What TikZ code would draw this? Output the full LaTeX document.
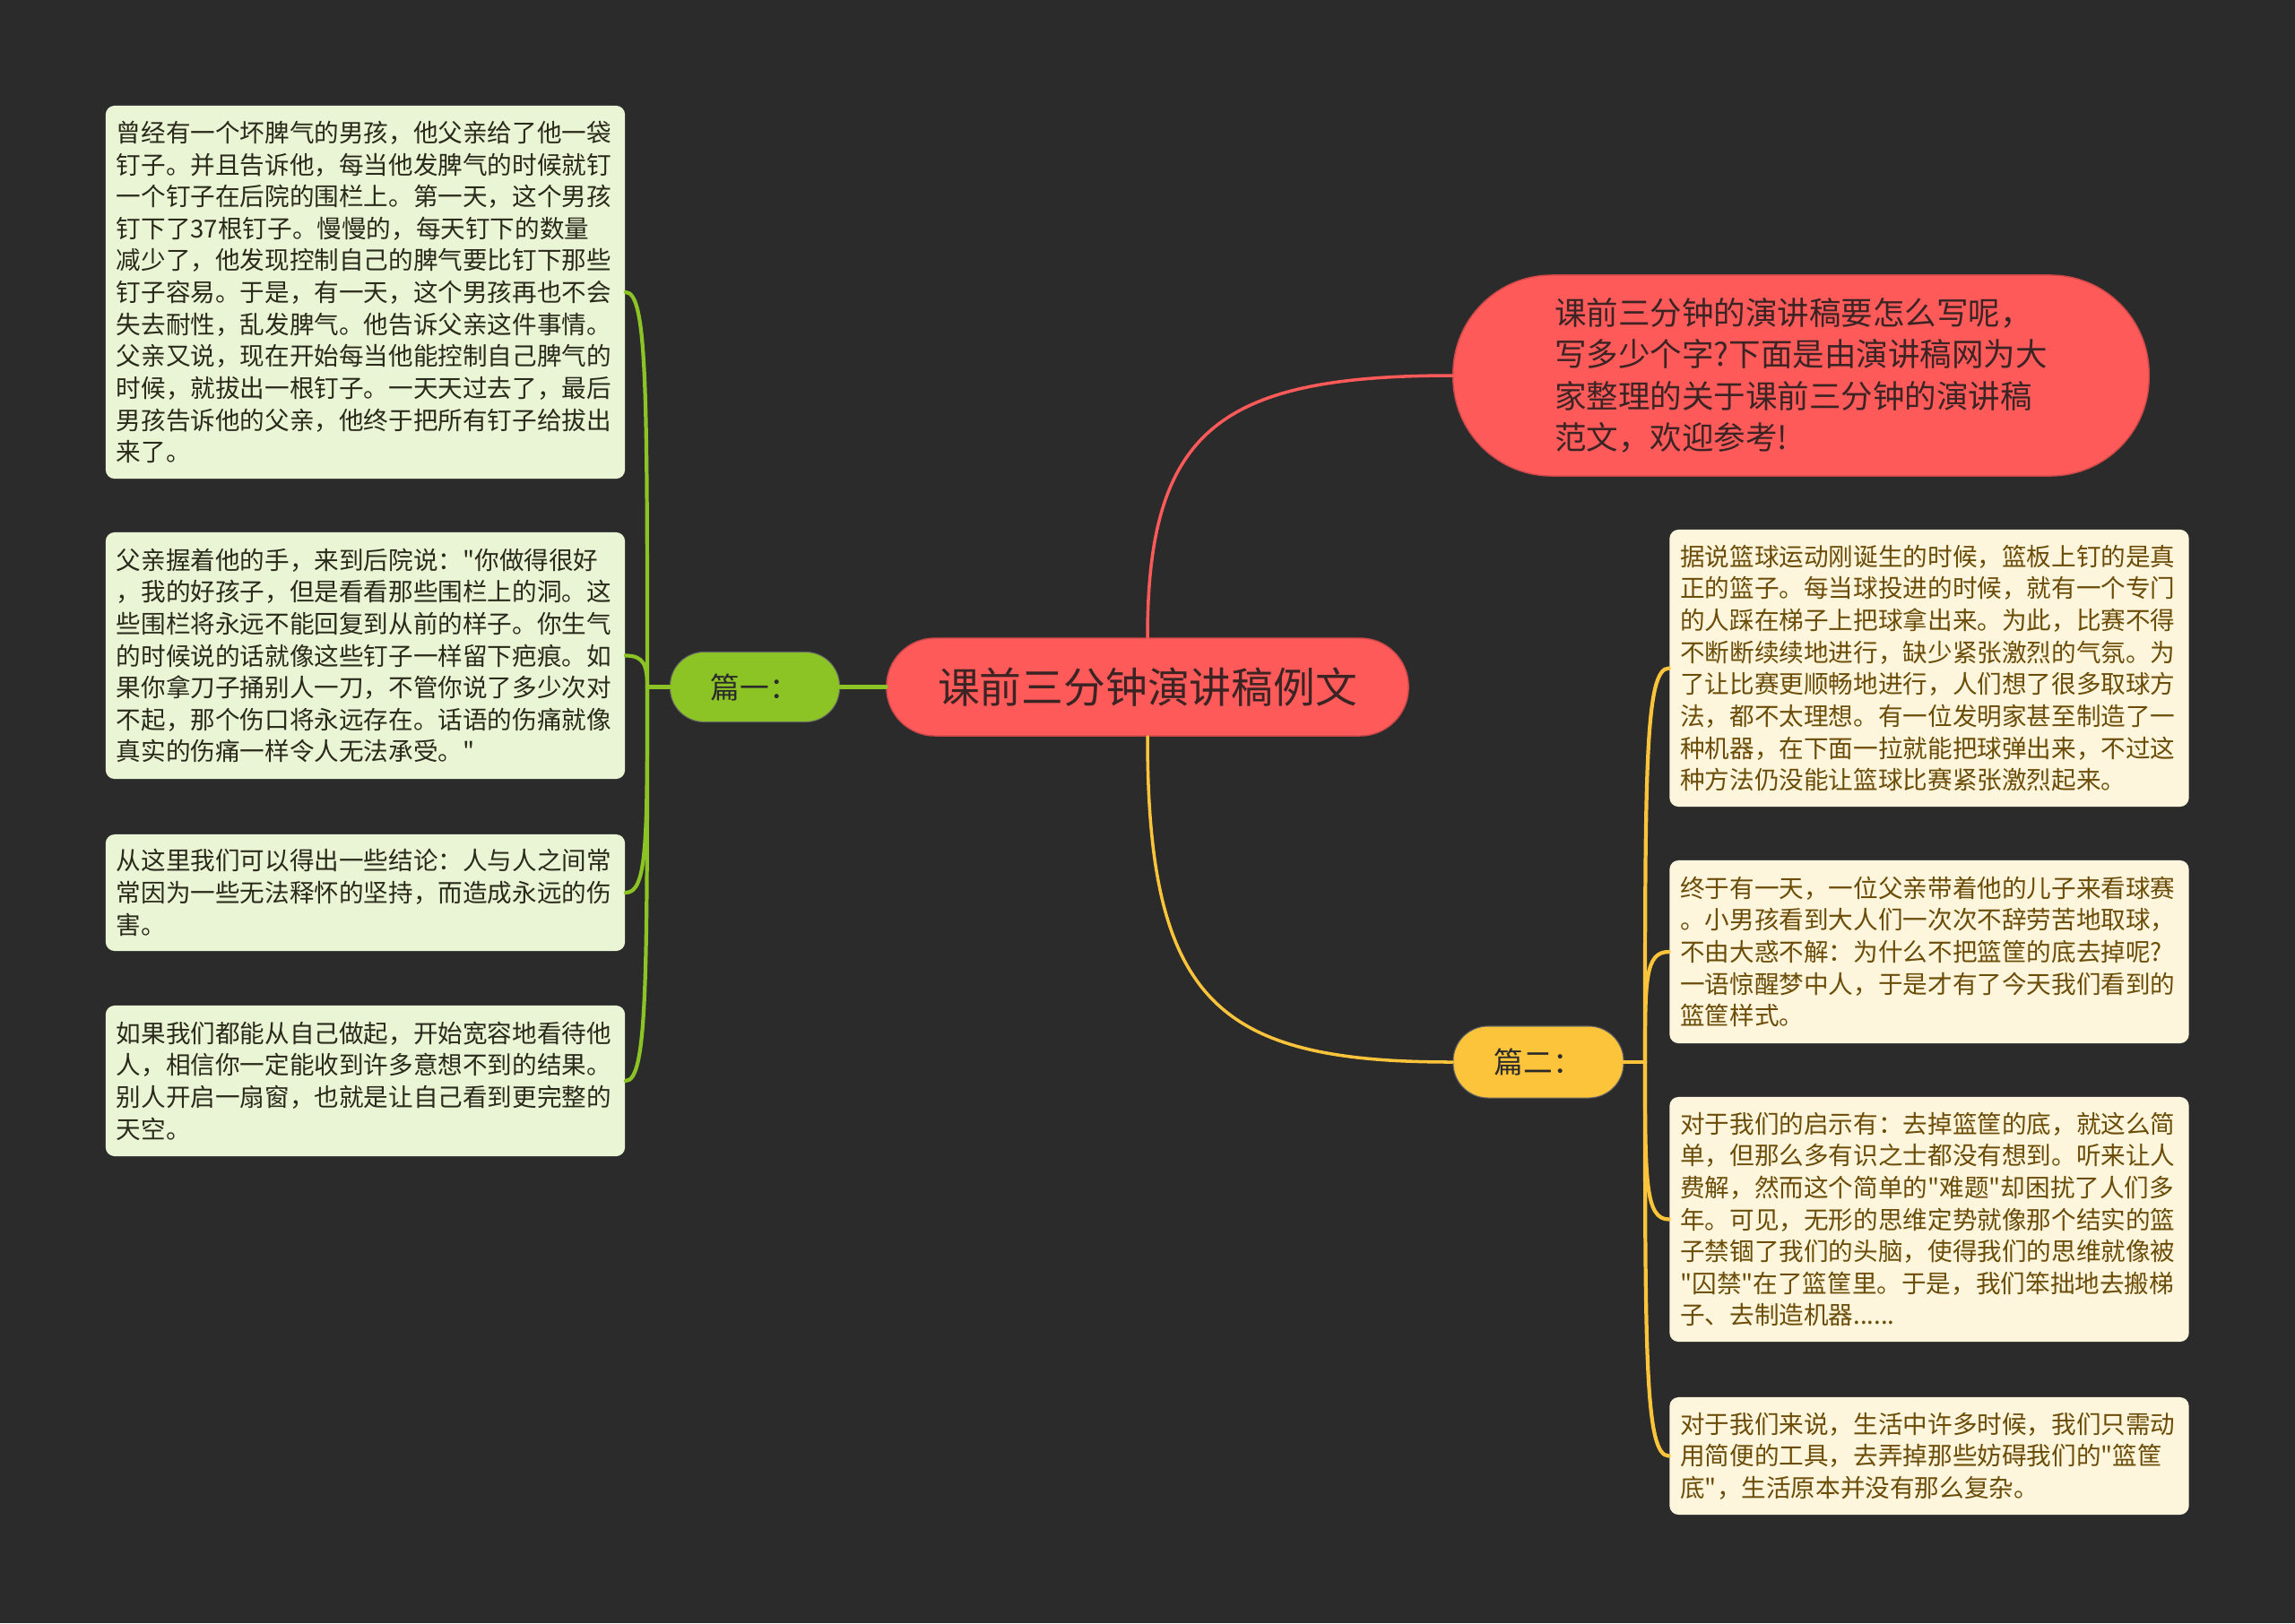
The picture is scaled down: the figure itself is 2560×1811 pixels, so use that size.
\documentclass[tikz,border=0pt]{standalone}
\usepackage{fontspec}
\newfontfamily\cjk{Noto Sans CJK SC}
\definecolor{bg}{HTML}{2B2B2B}
\definecolor{redfill}{HTML}{FF5A5A}
\definecolor{greenfill}{HTML}{8CC425}
\definecolor{yellowfill}{HTML}{FCC43A}
\definecolor{leftboxfill}{HTML}{EAF5D6}
\definecolor{rightboxfill}{HTML}{FEF6DC}
\definecolor{lefttext}{HTML}{2A2A1A}
\definecolor{righttext}{HTML}{6B4C08}
\definecolor{redtext}{HTML}{3D2424}
\definecolor{darktext}{HTML}{2B2B2B}
\begin{document}
\begin{tikzpicture}[x=0.01cm,y=-0.01cm,
  rootnode/.style={rectangle,rounded corners=0.54cm,fill=redfill,draw=redfill!80!black,line width=0.4pt,
    minimum width=5.82cm,minimum height=1.09cm,inner sep=0pt,text=redtext,
    font=\cjk\fontsize{13.3pt}{16pt}\selectfont},
  intronode/.style={rectangle,rounded corners=1.1cm,fill=redfill,draw=redfill!80!black,line width=0.4pt,
    minimum width=7.76cm,minimum height=2.24cm,inner sep=0pt,text=redtext,align=left,
    font=\cjk\fontsize{10.1pt}{13.2pt}\selectfont},
  branchnode/.style={rectangle,rounded corners=0.38cm,draw=black!60,line width=0.3pt,
    minimum width=1.89cm,minimum height=0.78cm,inner sep=0pt,text=darktext,
    font=\cjk\fontsize{9.3pt}{11pt}\selectfont},
  leafbox/.style={rectangle,rounded corners=0.1cm,text width=5.55cm,inner xsep=0.12cm,inner ysep=0pt,
    align=left,font=\cjk\fontsize{7.85pt}{10.13pt}\selectfont},
  leftleaf/.style={leafbox,fill=leftboxfill,text=lefttext},
  rightleaf/.style={leafbox,fill=rightboxfill,text=righttext},
  greenline/.style={draw=greenfill,line width=1.2pt,line cap=round},
  yellowline/.style={draw=yellowfill,line width=1.2pt,line cap=round},
  redline/.style={draw=redfill,line width=1pt,line cap=round}
]
\fill[bg] (0,0) rectangle (2560,1811);
\useasboundingbox (0,0) rectangle (2560,1811);

% main nodes
\node[rootnode] (root) at (1280,766.5) {课前三分钟演讲稿例文};
\node[intronode] (intro) at (2009,419) {课前三分钟的演讲稿要怎么写呢，\\写多少个字?下面是由演讲稿网为大\\家整理的关于课前三分钟的演讲稿\\范文，欢迎参考!};
\node[branchnode,fill=greenfill] (p1) at (842,766.5) {篇一：};
\node[branchnode,fill=yellowfill,minimum width=1.90cm,minimum height=0.80cm,rounded corners=0.39cm] (p2) at (1716,1185) {篇二：};

% left leaves
\node[leftleaf,minimum height=4.16cm] (l1) at (407.5,326) {曾经有一个坏脾气的男孩，他父亲给了他一袋\\钉子。并且告诉他，每当他发脾气的时候就钉\\一个钉子在后院的围栏上。第一天，这个男孩\\钉下了37根钉子。慢慢的，每天钉下的数量\\减少了，他发现控制自己的脾气要比钉下那些\\钉子容易。于是，有一天，这个男孩再也不会\\失去耐性，乱发脾气。他告诉父亲这件事情。\\父亲又说，现在开始每当他能控制自己脾气的\\时候，就拔出一根钉子。一天天过去了，最后\\男孩告诉他的父亲，他终于把所有钉子给拔出\\来了。};
\node[leftleaf,minimum height=2.75cm] (l2) at (407.5,731.5) {父亲握着他的手，来到后院说："你做得很好\\，我的好孩子，但是看看那些围栏上的洞。这\\些围栏将永远不能回复到从前的样子。你生气\\的时候说的话就像这些钉子一样留下疤痕。如\\果你拿刀子捅别人一刀，不管你说了多少次对\\不起，那个伤口将永远存在。话语的伤痛就像\\真实的伤痛一样令人无法承受。"};
\node[leftleaf,minimum height=1.30cm] (l3) at (407.5,996) {从这里我们可以得出一些结论：人与人之间常\\常因为一些无法释怀的坚持，而造成永远的伤\\害。};
\node[leftleaf,minimum height=1.68cm] (l4) at (407.5,1206) {如果我们都能从自己做起，开始宽容地看待他\\人，相信你一定能收到许多意想不到的结果。\\别人开启一扇窗，也就是让自己看到更完整的\\天空。};

% right leaves
\node[rightleaf,minimum height=3.09cm] (r1) at (2152,745.5) {据说篮球运动刚诞生的时候，篮板上钉的是真\\正的篮子。每当球投进的时候，就有一个专门\\的人踩在梯子上把球拿出来。为此，比赛不得\\不断断续续地进行，缺少紧张激烈的气氛。为\\了让比赛更顺畅地进行，人们想了很多取球方\\法，都不太理想。有一位发明家甚至制造了一\\种机器，在下面一拉就能把球弹出来，不过这\\种方法仍没能让篮球比赛紧张激烈起来。};
\node[rightleaf,minimum height=2.04cm] (r2) at (2152,1062) {终于有一天，一位父亲带着他的儿子来看球赛\\。小男孩看到大人们一次次不辞劳苦地取球，\\不由大惑不解：为什么不把篮筐的底去掉呢?\\一语惊醒梦中人，于是才有了今天我们看到的\\篮筐样式。};
\node[rightleaf,minimum height=2.73cm] (r3) at (2152,1360.5) {对于我们的启示有：去掉篮筐的底，就这么简\\单，但那么多有识之士都没有想到。听来让人\\费解，然而这个简单的"难题"却困扰了人们多\\年。可见，无形的思维定势就像那个结实的篮\\子禁锢了我们的头脑，使得我们的思维就像被\\"囚禁"在了篮筐里。于是，我们笨拙地去搬梯\\子、去制造机器......};
\node[rightleaf,minimum height=1.31cm] (r4) at (2152,1624.5) {对于我们来说，生活中许多时候，我们只需动\\用简便的工具，去弄掉那些妨碍我们的"篮筐\\底"，生活原本并没有那么复杂。};

% junctions
\coordinate (jl) at (722,766.5);
\coordinate (jr) at (1835,1185);

% main connectors
\draw[redline] (root.north) .. controls (1280,480) and (1360,419) .. (intro.west);
\draw[yellowline,line width=1pt] (root.south) .. controls (1280,1120) and (1360,1185) .. (p2.west);
\draw[greenline,line width=1.4pt] (root.west) -- (p1.east);

% left branch
\draw[greenline] (p1.west) -- (jl);
\draw[greenline] (jl) .. controls (722,437) and (722,326) .. (l1.east);
\draw[greenline] (jl) .. controls (722,742) and (718,731.5) .. (l2.east);
\draw[greenline] (jl) .. controls (722,938) and (722,996) .. (l3.east);
\draw[greenline] (jl) .. controls (722,1095) and (722,1206) .. (l4.east);

% right branch
\draw[yellowline] (p2.east) -- (jr);
\draw[yellowline] (jr) .. controls (1835,857) and (1835,745.5) .. (r1.west);
\draw[yellowline] (jr) .. controls (1835,1093) and (1835,1062) .. (r2.west);
\draw[yellowline] (jr) .. controls (1835,1317) and (1835,1360.5) .. (r3.west);
\draw[yellowline] (jr) .. controls (1835,1515) and (1835,1624.5) .. (r4.west);
\end{tikzpicture}
\end{document}
